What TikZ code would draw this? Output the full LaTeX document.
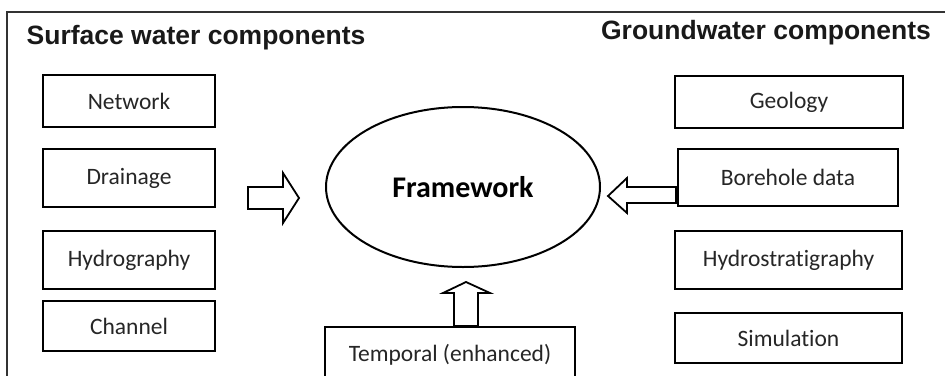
\documentclass[tikz,border=0pt]{standalone}
\usepackage{fontspec}
\setmainfont{Carlito}[Ligatures=CommonOff]
\newfontfamily\headfont{Liberation Sans}
\usetikzlibrary{shapes.geometric}

\begin{document}
\begin{tikzpicture}[x=1pt,y=-1pt,line join=miter,
  comp box/.style={rectangle,draw,line width=2.2pt,inner sep=0pt,font=\fontsize{23.5}{27}\selectfont,text=black!85},
  head/.style={font=\headfont\bfseries\fontsize{26.5}{30}\selectfont,text=black!90,inner sep=0pt},
  block arrow/.style={draw,line width=1.8pt,fill=white}]
  \clip (0,0) rectangle (945,375);
  \useasboundingbox (0,0) rectangle (945,375);
  \fill[white] (0,0) rectangle (945,375);
  \draw[line width=1.3pt,black!80] (7,378) -- (7,12) -- (948,12);

  \node[head] (swc) at (196,38) {Surface water components};
  \node[head] (gwc) at (766,33) {Groundwater components};

  \node[comp box,minimum width=172,minimum height=52] (network) at (129,101) {Network};
  \node[comp box,minimum width=172,minimum height=58] (drainage) at (129,178) {Drainage};
  \node[comp box,minimum width=172,minimum height=58] (hydrography) at (129,260) {Hydrography};
  \node[comp box,minimum width=172,minimum height=50] (channel) at (129,326) {Channel};

  \node[comp box,minimum width=228,minimum height=52] (geology) at (789,102) {Geology};
  \node[comp box,minimum width=220,minimum height=57] (borehole) at (788,177.5) {Borehole data};
  \node[comp box,minimum width=227,minimum height=58] (hydrostrat) at (788.5,260) {Hydrostratigraphy};
  \node[comp box,minimum width=227,minimum height=50] (simulation) at (788.5,338) {Simulation};

  \node[comp box,minimum width=250,minimum height=56] (temporal) at (450,355) {Temporal (enhanced)};

  \node[ellipse,draw,line width=2pt,minimum width=274,minimum height=160,inner sep=0pt,
        font=\bfseries\fontsize{30}{34}\selectfont] (framework) at (463,187) {Framework};

  % block arrows
  \draw[block arrow] (248,187) -- (283,187) -- (283,173) -- (299,198) -- (283,223) -- (283,209) -- (248,209) -- cycle;
  \draw[block arrow] (676,187) -- (627,187) -- (627,178) -- (608,196) -- (627,213) -- (627,203) -- (676,203) -- cycle;
  \draw[block arrow] (454,326) -- (454,293) -- (443,293) -- (466,282) -- (490,293) -- (478,293) -- (478,326) -- cycle;
\end{tikzpicture}
\end{document}
